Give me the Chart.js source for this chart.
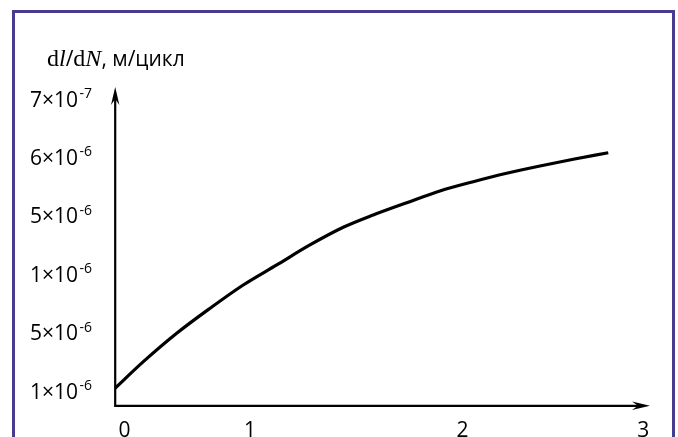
<!DOCTYPE html>
<html>
<head>
<meta charset="utf-8">
<script src="https://cdn.jsdelivr.net/npm/chart.js@4"></script>
<style>
  html, body { margin: 0; padding: 0; background: #fff; }
  canvas { display: block; }
</style>
</head>
<body>
<canvas id="c" width="678" height="437"></canvas>
<script>
// Crack growth rate curve
const curveX = [0, 0.159, 0.346, 0.533, 0.719, 0.907, 1.093, 1.280, 1.448, 1.636, 1.822, 2.009, 2.196, 2.383, 2.570, 2.766];
const curveY = [0.046, 0.502, 0.988, 1.416, 1.815, 2.158, 2.500, 2.803, 3.014, 3.224, 3.425, 3.584, 3.728, 3.853, 3.967, 4.080];

// Horizontal axis labels and where they sit on the axis
const xTickLabels = ['0', '1', '2', '3'];
const xTickPos = [0.053, 0.757, 1.949, 2.962];

// Vertical axis labels (mantissa, exponent), bottom to top
const yTickMantissa = ['1×10', '5×10', '1×10', '5×10', '6×10', '7×10'];
const yTickExponent = ['-6', '-6', '-6', '-6', '-6', '-7'];
const yTickPos = [0, 1, 2, 3, 4, 5];

const FRAME = '#483C8C';
const SANS = '"Open Sans", "Noto Sans", sans-serif';
const SERIF = '"Liberation Serif", "DejaVu Serif", serif';

function arrowHead(ctx, x, y, dir) {
  // barbed arrow head pointing in direction dir ('up' or 'right')
  const L = 18, W = 4.2, N = 12;
  ctx.beginPath();
  if (dir === 'up') {
    ctx.moveTo(x, y);
    ctx.lineTo(x + W, y + L);
    ctx.lineTo(x, y + N);
    ctx.lineTo(x - W, y + L);
  } else {
    ctx.moveTo(x, y);
    ctx.lineTo(x - L, y - W);
    ctx.lineTo(x - N, y);
    ctx.lineTo(x - L, y + W);
  }
  ctx.closePath();
  ctx.fill();
}

const decor = {
  id: 'decor',
  beforeDraw(chart) {
    const ctx = chart.ctx;
    ctx.save();
    ctx.fillStyle = '#fff';
    ctx.fillRect(0, 0, chart.width, chart.height);
    ctx.strokeStyle = FRAME;
    ctx.lineWidth = 3;
    ctx.strokeRect(13.5, 11.5, 660, 460);
    ctx.restore();
  },
  afterDatasetsDraw(chart) {
    const ctx = chart.ctx;
    const a = chart.chartArea;
    const xs = chart.scales.x, ys = chart.scales.y;
    const ax = a.left + 0.2, ay = a.bottom - 0.2;
    ctx.save();
    ctx.strokeStyle = '#000';
    ctx.fillStyle = '#000';
    ctx.lineWidth = 2.2;
    ctx.beginPath();
    ctx.moveTo(ax, ay + 1);
    ctx.lineTo(ax, a.top + 10);
    ctx.moveTo(ax - 1, ay);
    ctx.lineTo(a.right - 8, ay);
    ctx.stroke();
    arrowHead(ctx, ax, a.top, 'up');
    arrowHead(ctx, a.right, ay, 'right');

    // x tick labels
    ctx.font = '21px ' + SANS;
    ctx.textAlign = 'center';
    ctx.textBaseline = 'alphabetic';
    xTickLabels.forEach((t, i) => {
      ctx.fillText(t, xs.getPixelForValue(xTickPos[i]), 437);
    });

    // y tick labels with superscript exponent
    ctx.textAlign = 'left';
    yTickPos.forEach((v, i) => {
      const py = ys.getPixelForValue(v);
      const base = py + 7.6;
      ctx.font = '21px ' + SANS;
      ctx.fillText(yTickMantissa[i], 30, base);
      const w = ctx.measureText(yTickMantissa[i]).width;
      ctx.font = '14px ' + SANS;
      ctx.fillText(yTickExponent[i], 30 + w + 1.5, base - 8.5);
    });

    // axis title: dl/dN, м/цикл
    const parts = [
      ['d', '24px ' + SERIF],
      ['l', 'italic 24px ' + SERIF],
      ['/', '21px ' + SANS],
      ['d', '24px ' + SERIF],
      ['N', 'italic 24px ' + SERIF],
      [', м/цикл', '21px ' + SANS]
    ];
    let tx = 47;
    parts.forEach(([s, f]) => {
      ctx.font = f;
      ctx.fillText(s, tx, 66);
      tx += ctx.measureText(s).width;
    });
    ctx.restore();
  }
};

new Chart(document.getElementById('c'), {
  type: 'line',
  data: {
    datasets: [{
      data: curveX.map((x, i) => ({ x: x, y: curveY[i] })),
      borderColor: '#000',
      borderWidth: 3.2,
      pointRadius: 0,
      tension: 0.4,
      cubicInterpolationMode: 'monotone',
      fill: false
    }]
  },
  options: {
    responsive: false,
    devicePixelRatio: 1,
    animation: false,
    layout: { padding: { left: 115, right: 28, top: 87, bottom: 31 } },
    plugins: { legend: { display: false }, tooltip: { enabled: false } },
    scales: {
      x: { type: 'linear', display: false, min: 0, max: 3 },
      y: { type: 'linear', display: false, min: -0.257, max: 5.205 }
    }
  },
  plugins: [decor]
});
</script>
</body>
</html>
